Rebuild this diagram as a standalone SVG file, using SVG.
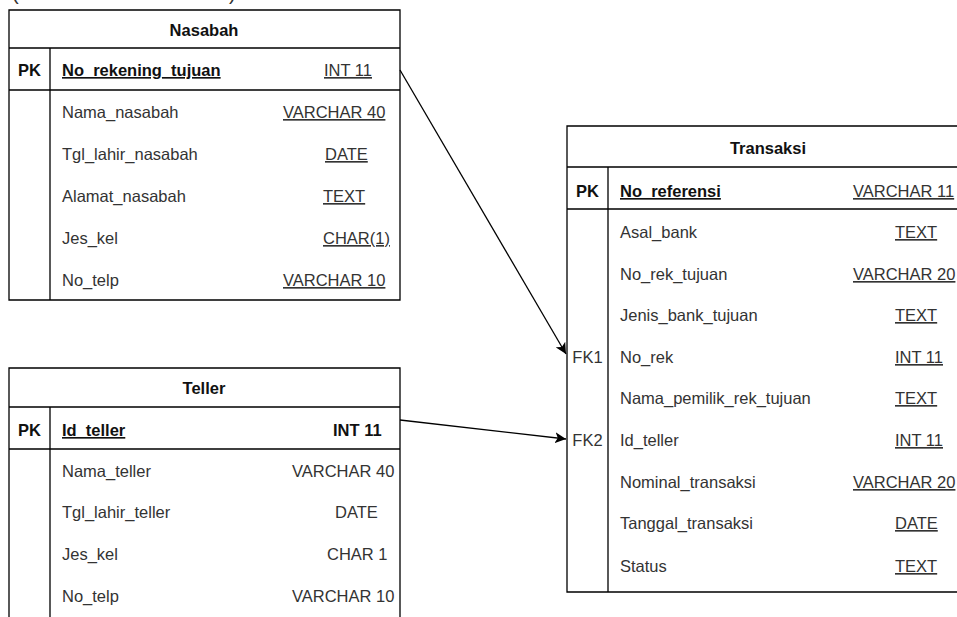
<svg xmlns="http://www.w3.org/2000/svg" width="957" height="617" viewBox="0 0 957 617">
<defs>
<style>
.ln{stroke:#000;stroke-width:1.3;fill:none}
.t{font-family:"Liberation Sans",Arial,sans-serif;font-size:16.5px;fill:#333}
.b{font-weight:bold;fill:#111}
.u{text-decoration:underline}
.c{text-anchor:middle}
</style>
<marker id="ah" viewBox="0 0 10 10" refX="10" refY="5" markerWidth="11" markerHeight="11" markerUnits="userSpaceOnUse" orient="auto">
<path d="M0,0 L10,5 L0,10 L2.5,5 Z" fill="#000"/>
</marker>
</defs>
<rect width="957" height="617" fill="#fff"/>
<text class="t" x="12" y="0" style="font-size:20px">(</text>
<text class="t" x="229" y="0" style="font-size:20px">)</text>

<g id="nasabah">
<path class="ln" d="M9,10 H400 V300 H9 Z M9,48 H400 M9,90 H400 M50,48 V300"/>
<text class="t b c" x="204" y="36">Nasabah</text>
<text class="t b c" x="29.5" y="76">PK</text>
<text class="t b u" x="62" y="76">No_rekening_tujuan</text>
<text class="t u" x="324" y="76">INT 11</text>
<text class="t" x="62" y="118">Nama_nasabah</text>
<text class="t u" x="283" y="118">VARCHAR 40</text>
<text class="t" x="62" y="160">Tgl_lahir_nasabah</text>
<text class="t u" x="325" y="160">DATE</text>
<text class="t" x="62" y="202">Alamat_nasabah</text>
<text class="t u" x="323" y="202">TEXT</text>
<text class="t" x="62" y="244">Jes_kel</text>
<text class="t u" x="323" y="244">CHAR(1)</text>
<text class="t" x="62" y="286">No_telp</text>
<text class="t u" x="283" y="286">VARCHAR 10</text>
</g>

<g id="teller">
<path class="ln" d="M9,617 V368 H400 V617 M9,407 H400 M9,449 H400 M50,407 V617"/>
<text class="t b c" x="204" y="394">Teller</text>
<text class="t b c" x="29.5" y="436">PK</text>
<text class="t b u" x="62" y="436">Id_teller</text>
<text class="t b" x="333" y="436">INT 11</text>
<text class="t" x="62" y="477">Nama_teller</text>
<text class="t" x="292" y="477">VARCHAR 40</text>
<text class="t" x="335" y="518">DATE</text>
<text class="t" x="62" y="518">Tgl_lahir_teller</text>
<text class="t" x="62" y="560">Jes_kel</text>
<text class="t" x="327" y="560">CHAR 1</text>
<text class="t" x="62" y="602">No_telp</text>
<text class="t" x="292" y="602">VARCHAR 10</text>
</g>

<g id="transaksi">
<path class="ln" d="M957,126 H567 V592 H957 M567,167 H957 M567,209 H957 M608,167 V592"/>
<text class="t b c" x="768" y="154">Transaksi</text>
<text class="t b c" x="587.5" y="197">PK</text>
<text class="t b u" x="620" y="197">No_referensi</text>
<text class="t u" x="853" y="197">VARCHAR 11</text>
<text class="t" x="620" y="238">Asal_bank</text>
<text class="t u" x="895" y="238">TEXT</text>
<text class="t" x="620" y="280">No_rek_tujuan</text>
<text class="t u" x="853" y="280">VARCHAR 20</text>
<text class="t" x="620" y="321">Jenis_bank_tujuan</text>
<text class="t u" x="895" y="321">TEXT</text>
<text class="t c" x="587.5" y="363">FK1</text>
<text class="t" x="620" y="363">No_rek</text>
<text class="t u" x="895" y="363">INT 11</text>
<text class="t" x="620" y="404">Nama_pemilik_rek_tujuan</text>
<text class="t u" x="895" y="404">TEXT</text>
<text class="t c" x="587.5" y="446">FK2</text>
<text class="t" x="620" y="446">Id_teller</text>
<text class="t u" x="895" y="446">INT 11</text>
<text class="t" x="620" y="488">Nominal_transaksi</text>
<text class="t u" x="853" y="488">VARCHAR 20</text>
<text class="t" x="620" y="529">Tanggal_transaksi</text>
<text class="t u" x="895" y="529">DATE</text>
<text class="t" x="620" y="572">Status</text>
<text class="t u" x="895" y="572">TEXT</text>
</g>

<g id="connectors">
<line class="ln" x1="400" y1="70" x2="566" y2="354" marker-end="url(#ah)"/>
<line class="ln" x1="400" y1="420" x2="566" y2="439" marker-end="url(#ah)"/>
</g>
</svg>
